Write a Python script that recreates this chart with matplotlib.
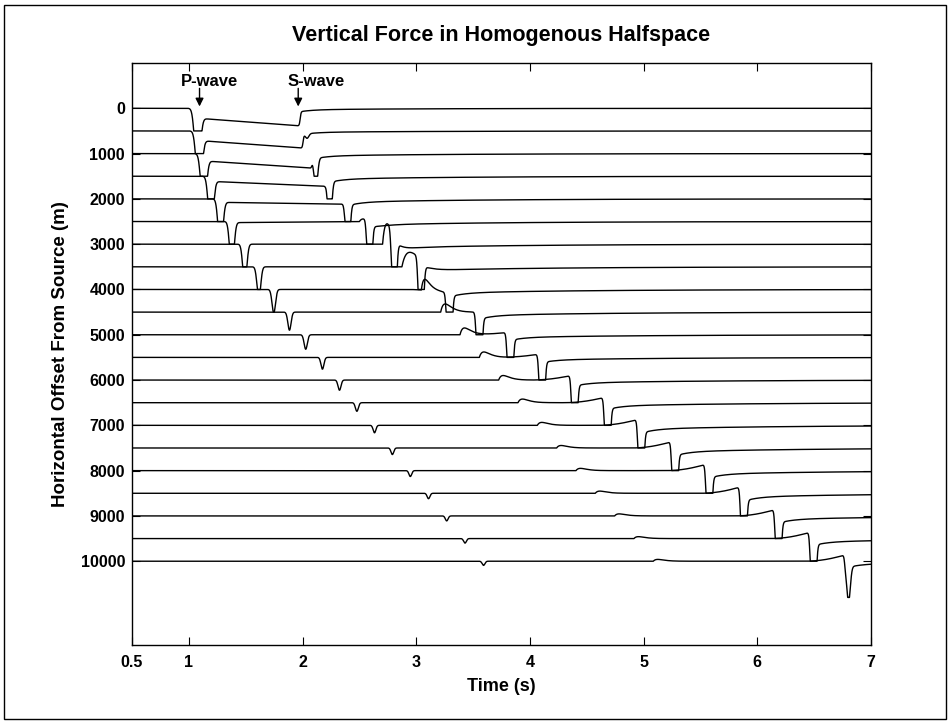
import numpy as np
import matplotlib
matplotlib.use("Agg")
import matplotlib.pyplot as plt
from matplotlib.patches import Rectangle

plt.rcParams["font.family"] = ["Liberation Sans", "DejaVu Sans"]
plt.rcParams["font.weight"] = "bold"

# Receiver offsets (m) and the phase parameters of each trace
offsets = [0, 500, 1000, 1500, 2000, 2500, 3000, 3500, 4000, 4500, 5000,
           5500, 6000, 6500, 7000, 7500, 8000, 8500, 9000, 9500, 10000]

# direct P arrival (s), pulse amplitude and width
p_arrival = [1.040, 1.054, 1.094, 1.158, 1.243, 1.343, 1.457, 1.581, 1.712, 1.850,
             1.993, 2.140, 2.290, 2.443, 2.598, 2.755, 2.913, 3.073, 3.233, 3.394, 3.557]
p_amp = [1500, 1500, 1400, 1300, 1200, 1100, 900, 700, 520, 400, 320,
         260, 225, 190, 165, 145, 130, 120, 110, 100, 92]
p_width = [0.022, 0.022, 0.021, 0.020, 0.019, 0.018, 0.017, 0.016, 0.015, 0.014, 0.014,
           0.013, 0.013, 0.013, 0.012, 0.012, 0.012, 0.012, 0.012, 0.012, 0.012]

# near-field level between P and S (start / end of the ramp)
near_start = [212, 205, 155, 110, 75, 25, 0, 0, 0, 0, 0, 0, 0, 0, 0, 0, 0, 0, 0, 0, 0]
near_end = [390, 380, 322, 220, 115, 0, 0, 0, 0, 0, 0, 0, 0, 0, 0, 0, 0, 0, 0, 0, 0]

# direct S arrival (s) and pulse amplitude
s_arrival = [1.979, 2.005, 2.082, 2.204, 2.364, 2.556, 2.772, 3.008, 3.258, 3.521,
             3.793, 4.073, 4.359, 4.649, 4.944, 5.242, 5.543, 5.847, 6.152, 6.460, 6.768]
s_amp = [0, 100, 700, 1200, 1600, 2000, 2500, 3000, 3000, 3000, 3000,
         3000, 3000, 3000, 3000, 3000, 3000, 3000, 3000, 3000, 760]

# S-to-P surface head wave (sP)
sp_arrival = [np.nan, np.nan, np.nan, np.nan, np.nan, 2.500, 2.704, 2.874, 3.045, 3.215,
              3.385, 3.555, 3.725, 3.895, 4.065, 4.235, 4.405, 4.575, 4.745, 4.915, 5.085]
sp_amp = [0, 0, 0, 0, 0, -60, -450, -320, -240, -180, -150,
          -120, -100, -80, -65, -55, -50, -48, -45, -42, -40]
sp_rise = [0.04, 0.04, 0.04, 0.04, 0.04, 0.04, 0.04, 0.07, 0.032, 0.04, 0.04,
           0.04, 0.04, 0.04, 0.04, 0.04, 0.04, 0.04, 0.04, 0.04, 0.04]

# slow emergent motion just ahead of S, and the coda level after S
pre_s_amp = [0, 0, 0, 0, 0, 0, 0, 0, 70, 0, -50,
             -70, -100, -115, -130, -140, -140, -140, -140, -140, -140]
tail_amp = [75, 75, 130, 160, 180, 190, 200, 200, 200, 190, 150,
            140, 160, 180, 210, 210, 195, 210, 190, 185, 160]

# traces are clipped where they would cross a neighbouring baseline
clip_level = [500] * 20 + [800]

t = np.arange(0.5, 7.0005, 0.001)


def smooth_step(x, w=0.008):
    return 0.5 * (1.0 + np.tanh(x / w))


def trace(i):
    tp, ts = p_arrival[i], s_arrival[i]
    u = np.zeros_like(t)
    # direct P
    u += p_amp[i] * np.exp(-0.5 * ((t - (tp + 0.035)) / p_width[i]) ** 2)
    # near-field ramp between P and S
    frac = np.clip((t - tp) / (ts - tp), 0.0, 1.0)
    ramp = near_start[i] + (near_end[i] - near_start[i]) * frac
    u += ramp * smooth_step(t - tp - 0.03) * (1.0 - smooth_step(t - ts))
    # sP head wave
    if not np.isnan(sp_arrival[i]):
        dt = np.maximum(t - sp_arrival[i], 0.0) / sp_rise[i]
        u += sp_amp[i] * dt * np.exp(1.0 - dt)
    # emergent motion before S
    D = 0.35
    x = np.clip((t - (ts - D)) / D, 0.0, 1.0)
    u += pre_s_amp[i] * x ** 2 * (1.0 - smooth_step(t - ts))
    # direct S
    u += s_amp[i] * np.exp(-0.5 * ((t - (ts + 0.035)) / 0.015) ** 2)
    # S coda
    dts = np.maximum(t - ts, 0.0)
    u += tail_amp[i] * (0.6 * np.exp(-dts / 0.12) + 0.4 * np.exp(-dts / 1.2)) * smooth_step(t - ts)
    c = clip_level[i]
    return np.clip(u, -c, c)


fig = plt.figure(figsize=(9.51, 7.23), dpi=100)
W, H = 951.0, 723.0
ax = fig.add_axes([132 / W, 1 - 645 / H, (871 - 132) / W, (645 - 63) / H])

for i, r in enumerate(offsets):
    ax.plot(t, r + trace(i), color="black", lw=1.0, solid_joinstyle="round")

ax.set_xlim(0.5, 7.0)
ax.set_ylim(11850, -1000)

xticks = [0.5, 1, 2, 3, 4, 5, 6, 7]
yticks = [0, 1000, 2000, 3000, 4000, 5000, 6000, 7000, 8000, 9000, 10000]
ax.set_xticks(xticks)
ax.set_xticklabels(["0.5", "1", "2", "3", "4", "5", "6", "7"])
ax.set_yticks(yticks)
ax.set_yticklabels([str(v) for v in yticks])
ax.tick_params(direction="in", length=6, width=0.8, top=True, right=True,
               labelsize=11.5, colors="black")
ax.tick_params(axis="x", pad=7)
ax.tick_params(axis="y", pad=5)
for lab in ax.get_xticklabels() + ax.get_yticklabels():
    lab.set_fontweight("bold")
for sp in ax.spines.values():
    sp.set_linewidth(1.0)

ax.set_xlabel("Time (s)", fontsize=13, fontweight="bold", labelpad=6)
ax.set_ylabel("Horizontal Offset From Source (m)", fontsize=13.5, fontweight="bold", labelpad=8)
fig.text(501.5 / W, 1 - 36 / H, "Vertical Force in Homogenous Halfspace",
         ha="center", va="center", fontsize=15.5, fontweight="bold")

# phase markers on the zero-offset trace
arrow = dict(arrowstyle="-|>", color="black", lw=1.0, mutation_scale=12, shrinkA=0, shrinkB=0)
ax.annotate("", xy=(1.094, -40), xytext=(1.094, -440), arrowprops=arrow)
ax.annotate("", xy=(1.962, -40), xytext=(1.962, -440), arrowprops=arrow)
ax.text(1.18, -590, "P-wave", ha="center", va="center", fontsize=12, fontweight="bold")
ax.text(2.12, -590, "S-wave", ha="center", va="center", fontsize=12, fontweight="bold")

# outer frame around the figure
fig.patches.append(Rectangle((4 / W, 4 / H), 942 / W, 714 / H, transform=fig.transFigure,
                             fill=False, edgecolor="black", lw=1.0))

fig.savefig("out.png", dpi=100)
